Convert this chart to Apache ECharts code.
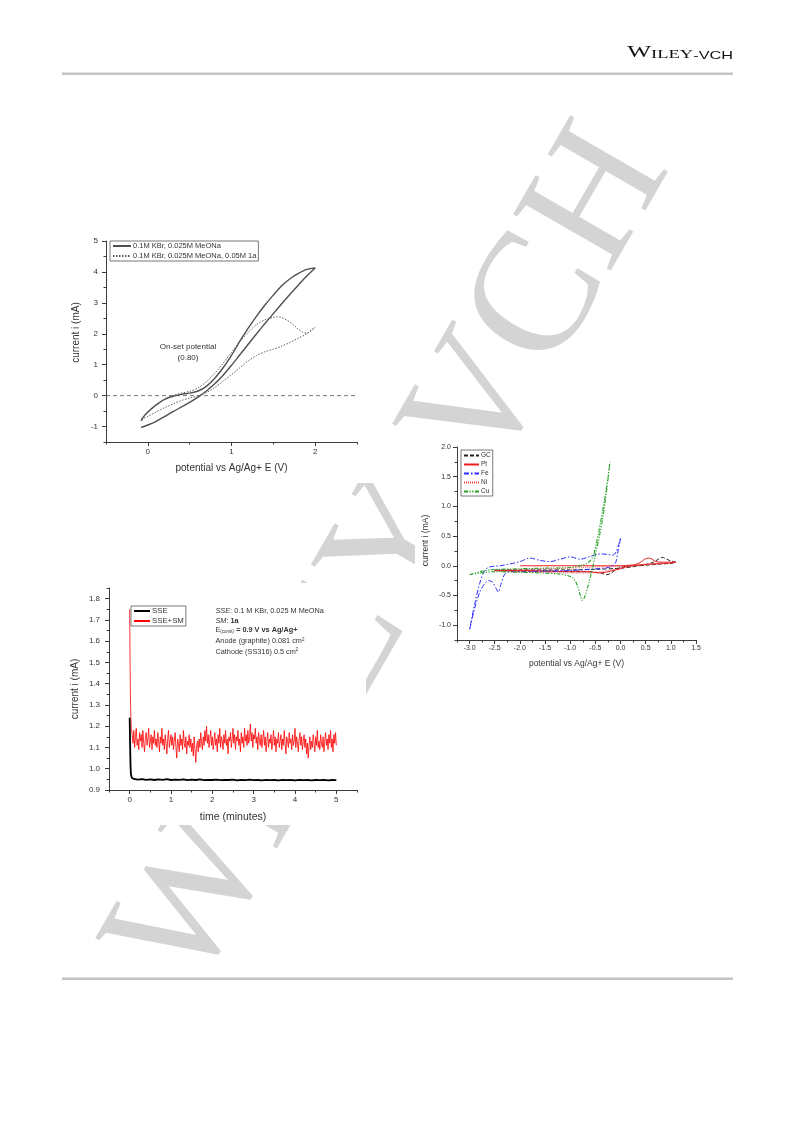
<!DOCTYPE html>
<html><head><meta charset="utf-8">
<script src="https://cdn.jsdelivr.net/npm/echarts@6/dist/echarts.min.js"></script>
<style>html,body{margin:0;padding:0;background:#fff}#c{width:793px;height:1121px}</style>
</head><body><div id="c"></div>
<script>
// ---------- Chart 1: CV in KBr / MeONa ----------
const cv1Names = ['0.1M KBr, 0.025M MeONa', '0.1M KBr, 0.025M MeONa, 0.05M 1a'];
const cv1Solid = [[-0.08,-1.03],[0.0,-0.95],[0.1,-0.83],[0.2,-0.68],[0.3,-0.52],[0.4,-0.37],[0.5,-0.22],[0.6,-0.05],[0.7,0.15],[0.8,0.38],[0.9,0.66],[1.0,0.98],[1.1,1.32],[1.2,1.66],[1.3,2.0],[1.4,2.33],[1.5,2.65],[1.6,2.97],[1.7,3.28],[1.8,3.58],[1.9,3.87],[2.0,4.13],
  [1.9,4.08],[1.8,3.95],[1.7,3.78],[1.6,3.55],[1.5,3.25],[1.4,2.93],[1.3,2.57],[1.2,2.18],[1.1,1.76],[1.0,1.3],[0.9,0.9],[0.8,0.56],[0.7,0.3],[0.6,0.15],[0.5,0.08],[0.4,0.04],[0.3,-0.02],[0.2,-0.12],[0.1,-0.3],[0.0,-0.53],[-0.05,-0.68],[-0.08,-0.82]];
const cv1Dotted = [[-0.08,-0.75],[0.0,-0.55],[0.1,-0.3],[0.2,-0.12],[0.3,0.0],[0.4,0.08],[0.5,0.14],[0.6,0.25],[0.7,0.45],[0.8,0.72],[0.9,1.05],[1.0,1.4],[1.1,1.75],[1.2,2.05],[1.3,2.3],[1.4,2.45],[1.5,2.53],[1.55,2.55],[1.6,2.52],[1.7,2.38],[1.8,2.15],[1.85,2.05],[1.9,2.02],[1.95,2.1],[2.0,2.22],
  [1.9,2.0],[1.8,1.86],[1.7,1.72],[1.6,1.6],[1.5,1.5],[1.4,1.42],[1.3,1.3],[1.2,1.12],[1.1,0.9],[1.0,0.68],[0.9,0.47],[0.8,0.26],[0.7,0.1],[0.6,-0.01],[0.5,-0.08],[0.4,-0.16],[0.3,-0.27],[0.2,-0.39],[0.1,-0.53],[0.0,-0.67],[-0.08,-0.78]];
const cv1Zero = [[-0.5,0],[2.5,0]];
const cv1XMajor = [0,1,2], cv1XMinor = [-0.5,0.5,1.5,2.5];
const cv1YMajor = [-1,0,1,2,3,4,5], cv1YMinor = [-1.5,-0.5,0.5,1.5,2.5,3.5,4.5];

// ---------- Chart 2: electrode materials ----------
const cv2Names = ['GC','Pt','Fe','Ni','Cu'];
const cvGC = [[-2.5,-0.07],[-2.0,-0.07],[-1.5,-0.07],[-1.0,-0.07],[-0.5,-0.06],[0.0,-0.04],[0.3,-0.01],[0.5,0.02],[0.65,0.06],[0.75,0.11],[0.83,0.14],[0.92,0.11],[1.0,0.08],[1.1,0.06],[1.0,0.04],[0.8,0.03],[0.5,0.01],[0.2,0.0],[0.0,-0.03],[-0.1,-0.07],[-0.2,-0.13],[-0.28,-0.15],[-0.4,-0.12],[-0.7,-0.1],[-1.0,-0.1],[-1.5,-0.09],[-2.0,-0.09],[-2.5,-0.08]];
const cvPt = [[-2.0,0.0],[-1.5,0.0],[-1.0,0.0],[-0.5,0.0],[0.0,0.0],[0.2,0.01],[0.3,0.02],[0.4,0.06],[0.48,0.11],[0.56,0.13],[0.63,0.11],[0.7,0.07],[0.85,0.06],[1.1,0.06],[0.9,0.04],[0.6,0.03],[0.3,0.01],[0.1,-0.02],[0.0,-0.05],[-0.15,-0.08],[-0.3,-0.11],[-0.45,-0.12],[-0.6,-0.1],[-1.0,-0.1],[-1.5,-0.09],[-2.0,-0.08],[-2.5,-0.08]];
const cvFe = [[0.0,0.46],[-0.05,0.25],[-0.1,0.05],[-0.2,-0.02],[-0.5,-0.05],[-1.0,-0.08],[-1.5,-0.09],[-2.0,-0.1],[-2.2,-0.1],[-2.3,-0.14],[-2.38,-0.32],[-2.43,-0.44],[-2.48,-0.37],[-2.55,-0.27],[-2.62,-0.25],[-2.7,-0.3],[-2.8,-0.45],[-2.9,-0.72],[-3.0,-1.08],[-2.9,-0.65],[-2.8,-0.3],[-2.7,-0.08],[-2.6,-0.02],[-2.4,0.0],[-2.2,0.03],[-2.0,0.07],[-1.8,0.13],[-1.6,0.09],[-1.4,0.07],[-1.2,0.11],[-1.0,0.15],[-0.8,0.11],[-0.6,0.16],[-0.4,0.2],[-0.25,0.19],[-0.15,0.18],[-0.08,0.25],[0.0,0.46]];
const cvNi = [[-2.5,-0.09],[-2.0,-0.1],[-1.5,-0.11],[-1.0,-0.12],[-0.6,-0.12],[-0.3,-0.09],[0.0,-0.04],[0.3,0.0],[0.6,0.03],[1.1,0.06],[0.6,0.02],[0.0,-0.01],[-0.5,-0.02],[-1.0,-0.04],[-1.5,-0.05],[-2.0,-0.06],[-2.5,-0.07]];
const cvCu = [[-3.0,-0.15],[-2.8,-0.1],[-2.6,-0.07],[-2.4,-0.06],[-2.0,-0.05],[-1.5,-0.04],[-1.0,-0.03],[-0.8,0.0],[-0.65,0.05],[-0.55,0.15],[-0.5,0.3],[-0.45,0.5],[-0.4,0.72],[-0.35,0.95],[-0.3,1.2],[-0.25,1.48],[-0.21,1.75],[-0.25,1.45],[-0.3,1.12],[-0.35,0.82],[-0.42,0.5],[-0.5,0.18],[-0.58,-0.12],[-0.65,-0.35],[-0.7,-0.5],[-0.76,-0.58],[-0.8,-0.5],[-0.85,-0.35],[-0.92,-0.23],[-1.0,-0.18],[-1.2,-0.14],[-1.6,-0.12],[-2.0,-0.11],[-2.5,-0.1],[-3.0,-0.15]];
const cv2XMajor = [-3.0,-2.5,-2.0,-1.5,-1.0,-0.5,0.0,0.5,1.0,1.5];
const cv2XMinor = [-3.25,-2.75,-2.25,-1.75,-1.25,-0.75,-0.25,0.25,0.75,1.25];
const cv2YMajor = [-1.0,-0.5,0.0,0.5,1.0,1.5,2.0];
const cv2YMinor = [-1.25,-0.75,-0.25,0.25,0.75,1.25,1.75];

// ---------- Chart 3: chronoamperometry ----------
const caNames = ['SSE','SSE+SM'];
const sseHead = [[0,1.24],[0.01,1.12],[0.02,1.02],[0.03,0.975],[0.05,0.958],[0.07,0.953]];
const sseTail = [0.952,0.949,0.951,0.948,0.950,0.947,0.950,0.948,0.951,0.947,
  0.949,0.948,0.950,0.946,0.949,0.947,0.950,0.946,0.948,0.947,
  0.949,0.946,0.948,0.947,0.949,0.945,0.948,0.946,0.949,0.946,
  0.947,0.945,0.948,0.946,0.947,0.945,0.948,0.946,0.947,0.945,
  0.948,0.946,0.947,0.945,0.947,0.946,0.948,0.945,0.947,0.946]; // every 0.1 min from 0.1
const smHead = [[0,1.75],[0.01,1.5],[0.02,1.32],[0.03,1.23],[0.04,1.19]];
const smTail = [1.16,1.12,1.18,1.10,1.15,1.19,1.11,1.14,1.09,1.17,
  1.13,1.16,1.10,1.18,1.12,1.08,1.15,1.17,1.11,1.14,
  1.19,1.10,1.13,1.16,1.09,1.15,1.12,1.18,1.11,1.14,
  1.10,1.17,1.13,1.08,1.15,1.12,1.19,1.11,1.14,1.09,
  1.16,1.12,1.07,1.14,1.18,1.10,1.13,1.16,1.11,1.15,
  1.09,1.13,1.17,1.10,1.05,1.14,1.12,1.08,1.16,1.11,
  1.14,1.09,1.18,1.12,1.10,1.15,1.07,1.13,1.11,1.16,
  1.10,1.14,1.08,1.12,1.06,1.15,1.09,1.03,1.11,1.13,
  1.08,1.14,1.10,1.17,1.12,1.09,1.15,1.11,1.18,1.13,
  1.20,1.12,1.16,1.10,1.14,1.18,1.11,1.15,1.09,1.13,
  1.17,1.11,1.14,1.08,1.16,1.12,1.19,1.10,1.15,1.13,
  1.09,1.16,1.12,1.18,1.11,1.14,1.07,1.15,1.13,1.17,
  1.10,1.14,1.19,1.12,1.16,1.09,1.15,1.13,1.18,1.11,
  1.14,1.08,1.17,1.12,1.15,1.10,1.19,1.13,1.16,1.11,
  1.18,1.12,1.15,1.21,1.13,1.17,1.10,1.16,1.14,1.19,
  1.12,1.15,1.09,1.17,1.13,1.11,1.16,1.10,1.14,1.18,
  1.11,1.15,1.08,1.13,1.17,1.10,1.14,1.12,1.16,1.09,
  1.13,1.18,1.11,1.15,1.08,1.14,1.12,1.17,1.10,1.13,
  1.16,1.09,1.14,1.11,1.18,1.12,1.07,1.15,1.13,1.10,
  1.17,1.12,1.14,1.09,1.16,1.11,1.13,1.19,1.10,1.15,
  1.12,1.08,1.14,1.17,1.11,1.15,1.09,1.13,1.16,1.10,
  1.14,1.07,1.12,1.05,1.11,1.15,1.09,1.13,1.10,1.16,
  1.12,1.08,1.15,1.11,1.18,1.10,1.13,1.09,1.16,1.12,
  1.10,1.15,1.08,1.13,1.17,1.11,1.14,1.09,1.16,1.12,
  1.18,1.10,1.14,1.08,1.16,1.12,1.17,1.11]; // every 0.02 min from 0.06
const caXMajor = [0,1,2,3,4,5], caXMinor = [-0.5,0.5,1.5,2.5,3.5,4.5,5.5];
const caYMajor = [0.9,1.0,1.1,1.2,1.3,1.4,1.5,1.6,1.7,1.8];
const caYMinor = [0.95,1.05,1.15,1.25,1.35,1.45,1.55,1.65,1.75,1.85];

// ---------- build ----------
const FONT = '"Liberation Sans", Arial, sans-serif';
const SERIF = '"Liberation Serif", serif';
const AX = '#3c3c3c';
const TXT = '#333';

function axes(dim, gridIndex, min, max, major, minor, o) {
  const pos = dim === 'x' ? 'bottom' : 'left';
  const main = {
    type: 'value', gridIndex, min, max, position: pos,
    axisLine: {show: true, onZero: false, lineStyle: {color: AX, width: 1}},
    axisTick: {show: true, length: 4, customValues: major, lineStyle: {color: AX, width: 1}},
    axisLabel: {show: true, customValues: major, formatter: o.fmt, fontSize: o.fs, color: TXT, fontFamily: FONT, margin: o.margin},
    splitLine: {show: false},
    name: o.name, nameLocation: 'middle', nameGap: o.gap,
    nameTextStyle: {fontSize: o.nfs, color: TXT, fontFamily: FONT, padding: o.npad || 0}
  };
  const mnr = {
    type: 'value', gridIndex, min, max, position: pos,
    axisLine: {show: false, onZero: false},
    axisTick: {show: true, length: 2.5, customValues: minor, lineStyle: {color: AX, width: 1}},
    axisLabel: {show: false}, splitLine: {show: false}
  };
  return [main, mnr];
}
const int = v => String(Math.round(v));
const f1 = v => v.toFixed(1);

const xAxis = [
  ...axes('x', 0, -0.5, 2.5, cv1XMajor, cv1XMinor, {fmt: int, fs: 8, margin: 6, name: 'potential vs Ag/Ag+ E (V)', gap: 21, nfs: 10}),
  ...axes('x', 1, -3.25, 1.5, cv2XMajor, cv2XMinor, {fmt: f1, fs: 7, margin: 5, name: 'potential vs Ag/Ag+ E (V)', gap: 19, nfs: 8.5}),
  ...axes('x', 2, -0.5, 5.5, caXMajor, caXMinor, {fmt: int, fs: 8, margin: 6, name: 'time (minutes)', gap: 22, nfs: 10.5})
];
const yAxis = [
  ...axes('y', 0, -1.5, 5, cv1YMajor, cv1YMinor, {fmt: int, fs: 8, margin: 8, name: 'current i (mA)', gap: 25, nfs: 10, npad: [0, 0, 0, 18]}),
  ...axes('y', 1, -1.25, 2.0, cv2YMajor, cv2YMinor, {fmt: f1, fs: 7, margin: 6, name: 'current i (mA)', gap: 27, nfs: 8.5, npad: [0, 0, 0, 6]}),
  ...axes('y', 2, 0.9, 1.85, caYMajor, caYMinor, {fmt: f1, fs: 8, margin: 9, name: 'current i (mA)', gap: 29, nfs: 10})
];

function line(name, data, xi, yi, color, width, type, extra) {
  return Object.assign({
    type: 'line', name, data, xAxisIndex: xi, yAxisIndex: yi,
    symbol: 'none', symbolSize: 0, smooth: false, animation: false,
    lineStyle: {color, width, type}, itemStyle: {color}
  }, extra || {});
}

const smData = smHead.concat(smTail.map((v, i) => [+(0.06 + i * 0.02).toFixed(2), v]));
const sseData = sseHead.concat(sseTail.map((v, i) => [+(0.1 + i * 0.1).toFixed(1), v]));

const series = [
  line('zero', cv1Zero, 0, 0, '#555', 0.8, [4, 3], {silent: true}),
  line(cv1Names[0], cv1Solid, 0, 0, '#505050', 1.4, 'solid', {smooth: 0.3}),
  line(cv1Names[1], cv1Dotted, 0, 0, '#606060', 1, [1.5, 1.5], {smooth: 0.3}),
  line('GC', cvGC, 2, 2, '#222', 1, [4, 2], {smooth: 0.3}),
  line('Pt', cvPt, 2, 2, '#ee1c1c', 1, 'solid', {smooth: 0.3}),
  line('Fe', cvFe, 2, 2, '#2b2bff', 1, [5, 2, 1.5, 2], {smooth: 0.3}),
  line('Ni', cvNi, 2, 2, '#f04040', 0.8, [1, 1], {smooth: 0.3}),
  line('Cu', cvCu, 2, 2, '#25a025', 1.1, [4, 1.5, 1.2, 1.5, 1.2, 1.5], {smooth: 0.3}),
  line('SSE+SM', smData, 4, 4, '#ff0000', 0.8, 'solid'),
  line('SSE', sseData, 4, 4, '#000', 1.8, 'solid')
];

const legendBase = {
  orient: 'vertical', selectedMode: false, borderColor: '#555', borderWidth: 0.8,
  backgroundColor: '#fff', itemGap: 2, itemStyle: {opacity: 0}
};
const legend = [
  Object.assign({}, legendBase, {data: cv1Names, left: 110, top: 241, itemWidth: 18, itemHeight: 8, padding: [1, 2, 1, 2],
    textStyle: {fontSize: 7.5, fontFamily: FONT, color: TXT, padding: [0, 0, 0, -3]}}),
  Object.assign({}, legendBase, {data: cv2Names, left: 461, top: 450, itemWidth: 15, itemHeight: 6, itemGap: 2, padding: [2, 2, 1, 2],
    textStyle: {fontSize: 6.5, fontFamily: FONT, color: TXT, padding: [0, 0, 0, -3]}}),
  Object.assign({}, legendBase, {data: caNames, left: 131, top: 606, itemWidth: 16, itemHeight: 8, padding: [1, 2, 1, 2],
    textStyle: {fontSize: 7.8, fontFamily: FONT, color: TXT, padding: [0, 0, 0, -3]}})
];

const DEG = Math.PI / 180;

const graphic = [
  {type: 'text', x: 228, y: 1015, rotation: 60 * DEG, z: -3, silent: true,
    style: {text: 'WILEY-VCH', fontFamily: SERIF, fontSize: 172, fill: '#d4d4d4', textAlign: 'left', textVerticalAlign: 'bottom'}},
  {type: 'rect', z: -2, silent: true, shape: {x: 55, y: 225, width: 320, height: 258}, style: {fill: '#fff'}},
  {type: 'rect', z: -2, silent: true, shape: {x: 415, y: 440, width: 300, height: 245}, style: {fill: '#fff'}},
  {type: 'rect', z: -2, silent: true, shape: {x: 70, y: 583, width: 296, height: 242}, style: {fill: '#fff'}},
  {type: 'rect', z: 1, silent: true, shape: {x: 62, y: 72.5, width: 671, height: 2.5}, style: {fill: '#c4c4c4'}},
  {type: 'rect', z: 1, silent: true, shape: {x: 62, y: 977.5, width: 671, height: 2.5}, style: {fill: '#c4c4c4'}},
  {type: 'text', z: 1, silent: true, x: 733, y: 61.5, scaleX: 1.48, scaleY: 1,
    style: {text: '{w|W}{s|ILEY}{v|-VCH}', textAlign: 'right', textVerticalAlign: 'bottom', fill: '#111',
      rich: {
        w: {fontFamily: SERIF, fontSize: 17, fill: '#111', verticalAlign: 'bottom', lineHeight: 17},
        s: {fontFamily: SERIF, fontSize: 12.5, fill: '#111', verticalAlign: 'bottom', lineHeight: 13},
        v: {fontFamily: FONT, fontSize: 11, fill: '#111', verticalAlign: 'bottom', lineHeight: 11.5}
      }}},
  {type: 'text', z: 5, silent: true, x: 188, y: 347, style: {text: 'On-set potential', fontSize: 8, fontFamily: FONT, fill: TXT, textAlign: 'center', textVerticalAlign: 'middle'}},
  {type: 'text', z: 5, silent: true, x: 188, y: 358, style: {text: '(0.80)', fontSize: 8, fontFamily: FONT, fill: TXT, textAlign: 'center', textVerticalAlign: 'middle'}},
  ...[
    ['{i|SSE}: 0.1 M KBr, 0.025 M MeONa', 611],
    ['{i|SM}: {b|1a}', 620.5],
    ['E{sub|(const)}{b| = 0.9 V vs Ag/Ag+}', 630],
    ['Anode (graphite) 0.081 cm{sup|2}', 641],
    ['Cathode (SS316) 0.5 cm{sup|2}', 651.5]
  ].map(([t, y]) => ({type: 'text', z: 5, silent: true, x: 215.5, y,
    style: {text: t, fontSize: 7.3, fontFamily: FONT, fill: TXT, textAlign: 'left', textVerticalAlign: 'middle',
      rich: {
        i: {fontSize: 7.3, fontStyle: 'italic', fontFamily: FONT, fill: TXT},
        b: {fontSize: 7.3, fontWeight: 'bold', fontFamily: FONT, fill: TXT},
        sub: {fontSize: 4.5, fontFamily: FONT, fill: TXT, verticalAlign: 'bottom', padding: [3, 0, 0, 0]},
        sup: {fontSize: 4.5, fontFamily: FONT, fill: TXT, verticalAlign: 'top', padding: [0, 0, 3, 0]}
      }}}))
];

const option = {
  backgroundColor: '#fff',
  animation: false,
  textStyle: {fontFamily: FONT},
  grid: [
    {left: 106, top: 241, width: 251, height: 201, outerBoundsMode: 'none', containLabel: false},
    {left: 457, top: 447, width: 239, height: 193, outerBoundsMode: 'none', containLabel: false},
    {left: 109, top: 588, width: 248, height: 202, outerBoundsMode: 'none', containLabel: false}
  ],
  xAxis, yAxis, series, legend, graphic
};
const chart = echarts.init(document.getElementById('c'), null, {renderer: 'canvas'});
chart.setOption(option);
</script></body></html>
